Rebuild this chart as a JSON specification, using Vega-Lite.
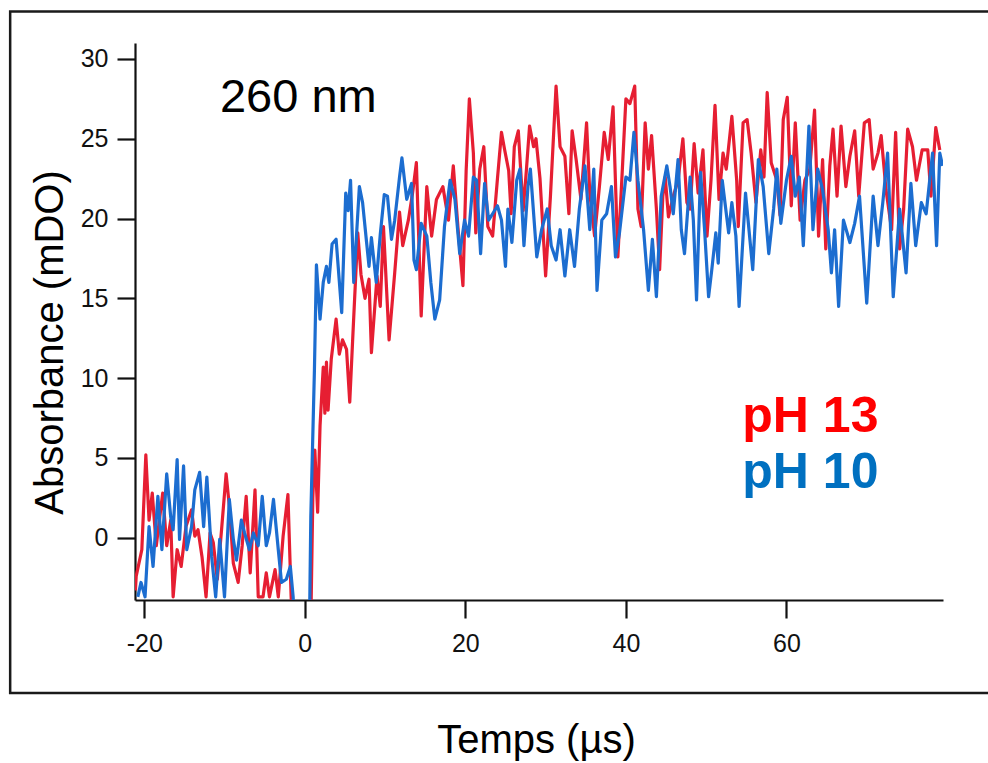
{
  "$schema": "https://vega.github.io/schema/vega-lite/v6.json",
  "width": 808,
  "height": 557,
  "autosize": "none",
  "padding": {"left": 135, "top": 43, "right": 45, "bottom": 163},
  "background": "white",
  "config": {
    "view": {"stroke": null},
    "font": "Liberation Sans",
    "axis": {
      "grid": false,
      "domainColor": "#111111",
      "domainWidth": 2.2,
      "tickColor": "#111111",
      "tickWidth": 2.2,
      "tickSize": 18,
      "labelFont": "Liberation Sans",
      "labelFontSize": 25,
      "labelColor": "#111111",
      "labelExpr": "'' + datum.value",
      "titleFont": "Liberation Sans",
      "titleFontSize": 40,
      "titleFontWeight": "normal",
      "titleColor": "#000000"
    }
  },
  "datasets": {
    "red": [
      {"t": -21.1, "v": -3.3}, {"t": -21.0, "v": -2.4}, {"t": -20.3, "v": -0.75}, {"t": -19.8, "v": 5.2}, {"t": -19.4, "v": 1.1},
      {"t": -19.0, "v": 2.8}, {"t": -18.5, "v": -0.5}, {"t": -17.7, "v": 2.8}, {"t": -17.2, "v": -0.5}, {"t": -16.7, "v": 1.1},
      {"t": -16.4, "v": -3.7}, {"t": -15.9, "v": -0.75}, {"t": -15.4, "v": -1.8}, {"t": -14.8, "v": 0.7}, {"t": -14.1, "v": 1.75},
      {"t": -13.7, "v": 0.1}, {"t": -13.3, "v": 0.5}, {"t": -12.8, "v": -1.2}, {"t": -12.3, "v": -3.7}, {"t": -11.8, "v": 0.3},
      {"t": -11.4, "v": -0.3}, {"t": -10.9, "v": -2.6}, {"t": -10.4, "v": 0.3}, {"t": -9.8, "v": 4.0}, {"t": -9.4, "v": 2.0},
      {"t": -8.9, "v": -1.6}, {"t": -8.3, "v": -2.8}, {"t": -7.8, "v": -0.5}, {"t": -7.3, "v": 2.6}, {"t": -6.8, "v": -2.2},
      {"t": -6.2, "v": 3.0}, {"t": -5.8, "v": -3.7}, {"t": -5.2, "v": -3.7}, {"t": -4.8, "v": -2.2}, {"t": -4.4, "v": -3.7},
      {"t": -3.7, "v": -2.0}, {"t": -3.3, "v": -3.7}, {"t": -2.7, "v": 0.1}, {"t": -2.1, "v": 2.7}, {"t": -1.7, "v": -3.7},
      {"t": -1.4, "v": -7}, {"t": 0.7, "v": -7}, {"t": 1.0, "v": 2.5}, {"t": 1.25, "v": 5.5}, {"t": 1.6, "v": 1.6},
      {"t": 1.9, "v": 7.0}, {"t": 2.3, "v": 10.7}, {"t": 2.5, "v": 7.8}, {"t": 2.7, "v": 11.0}, {"t": 2.9, "v": 8.0},
      {"t": 3.3, "v": 11.2}, {"t": 3.9, "v": 13.7}, {"t": 4.3, "v": 11.5}, {"t": 4.7, "v": 12.4}, {"t": 5.2, "v": 11.8},
      {"t": 5.6, "v": 8.5}, {"t": 6.0, "v": 12.8}, {"t": 6.6, "v": 19.1}, {"t": 7.0, "v": 16.5}, {"t": 7.5, "v": 15.0},
      {"t": 8.0, "v": 16.2}, {"t": 8.3, "v": 11.6}, {"t": 9.0, "v": 16.4}, {"t": 9.4, "v": 14.5}, {"t": 9.8, "v": 19.5},
      {"t": 10.5, "v": 12.4}, {"t": 11.2, "v": 16.6}, {"t": 11.8, "v": 20.4}, {"t": 12.2, "v": 18.3}, {"t": 12.9, "v": 19.9},
      {"t": 13.4, "v": 21.5}, {"t": 13.9, "v": 23.5}, {"t": 14.5, "v": 13.9}, {"t": 15.2, "v": 22.0}, {"t": 15.8, "v": 18.9},
      {"t": 16.4, "v": 21.2}, {"t": 17.2, "v": 22.0}, {"t": 17.9, "v": 19.9}, {"t": 18.5, "v": 23.3}, {"t": 19.1, "v": 19.3},
      {"t": 19.7, "v": 15.8}, {"t": 20.1, "v": 23.0}, {"t": 20.5, "v": 27.5}, {"t": 21.0, "v": 24.1}, {"t": 21.3, "v": 19.1},
      {"t": 21.8, "v": 23.1}, {"t": 22.3, "v": 24.5}, {"t": 22.8, "v": 19.5}, {"t": 23.4, "v": 18.9}, {"t": 24.0, "v": 22.5},
      {"t": 24.5, "v": 25.4}, {"t": 24.9, "v": 24.3}, {"t": 25.4, "v": 23.0}, {"t": 25.7, "v": 20.3}, {"t": 26.1, "v": 24.5},
      {"t": 26.6, "v": 25.5}, {"t": 27.2, "v": 20.5}, {"t": 27.6, "v": 23.0}, {"t": 28.0, "v": 25.8}, {"t": 28.5, "v": 24.5},
      {"t": 28.8, "v": 25.0}, {"t": 29.3, "v": 22.5}, {"t": 29.6, "v": 19.9}, {"t": 30.0, "v": 16.4}, {"t": 30.6, "v": 21.4},
      {"t": 31.3, "v": 28.3}, {"t": 31.8, "v": 24.5}, {"t": 32.4, "v": 23.9}, {"t": 32.9, "v": 20.3}, {"t": 33.3, "v": 25.5},
      {"t": 33.8, "v": 23.7}, {"t": 34.4, "v": 21.2}, {"t": 35.1, "v": 26.0}, {"t": 35.5, "v": 21.6}, {"t": 36.1, "v": 18.9},
      {"t": 36.7, "v": 22.0}, {"t": 37.3, "v": 25.4}, {"t": 37.8, "v": 23.7}, {"t": 38.4, "v": 27.0}, {"t": 39.0, "v": 17.6},
      {"t": 39.6, "v": 23.5}, {"t": 40.0, "v": 27.5}, {"t": 40.5, "v": 27.2}, {"t": 41.1, "v": 28.3}, {"t": 41.5, "v": 20.6},
      {"t": 41.9, "v": 19.5}, {"t": 42.4, "v": 26.0}, {"t": 42.8, "v": 23.1}, {"t": 43.2, "v": 25.2}, {"t": 43.8, "v": 20.6},
      {"t": 44.2, "v": 16.8}, {"t": 44.6, "v": 21.4}, {"t": 44.9, "v": 22.6}, {"t": 45.3, "v": 20.1}, {"t": 45.9, "v": 21.4},
      {"t": 46.5, "v": 22.4}, {"t": 47.1, "v": 25.0}, {"t": 47.6, "v": 21.0}, {"t": 48.0, "v": 20.6}, {"t": 48.5, "v": 24.7},
      {"t": 49.0, "v": 21.6}, {"t": 49.6, "v": 24.3}, {"t": 50.1, "v": 18.9}, {"t": 50.6, "v": 22.4}, {"t": 51.1, "v": 27.1},
      {"t": 51.6, "v": 21.2}, {"t": 52.1, "v": 24.1}, {"t": 52.5, "v": 23.1}, {"t": 53.2, "v": 26.4}, {"t": 53.8, "v": 22.4},
      {"t": 54.0, "v": 19.5}, {"t": 54.6, "v": 26.0}, {"t": 55.1, "v": 26.2}, {"t": 55.6, "v": 24.1}, {"t": 56.2, "v": 21.0},
      {"t": 56.8, "v": 24.3}, {"t": 57.2, "v": 22.6}, {"t": 57.6, "v": 27.9}, {"t": 58.1, "v": 23.5}, {"t": 58.8, "v": 22.4},
      {"t": 59.2, "v": 20.2}, {"t": 59.6, "v": 26.2}, {"t": 60.1, "v": 27.6}, {"t": 60.6, "v": 20.8}, {"t": 61.1, "v": 26.0},
      {"t": 61.7, "v": 19.9}, {"t": 62.3, "v": 22.4}, {"t": 62.9, "v": 23.1}, {"t": 63.5, "v": 26.8}, {"t": 64.0, "v": 18.9},
      {"t": 64.5, "v": 23.7}, {"t": 64.9, "v": 18.1}, {"t": 65.4, "v": 23.3}, {"t": 65.8, "v": 25.6}, {"t": 66.3, "v": 21.4},
      {"t": 66.8, "v": 25.8}, {"t": 67.4, "v": 22.0}, {"t": 67.9, "v": 23.9}, {"t": 68.5, "v": 25.5}, {"t": 69.0, "v": 21.4},
      {"t": 69.7, "v": 26.0}, {"t": 70.3, "v": 26.2}, {"t": 70.8, "v": 23.1}, {"t": 71.4, "v": 24.1}, {"t": 71.8, "v": 25.2},
      {"t": 72.4, "v": 21.8}, {"t": 73.1, "v": 19.3}, {"t": 73.6, "v": 25.4}, {"t": 74.1, "v": 18.1}, {"t": 74.6, "v": 20.6},
      {"t": 75.1, "v": 25.6}, {"t": 75.7, "v": 24.5}, {"t": 76.2, "v": 22.4}, {"t": 76.9, "v": 24.3}, {"t": 77.6, "v": 24.3},
      {"t": 78.0, "v": 21.4}, {"t": 78.6, "v": 25.7}, {"t": 79.1, "v": 24.3}
    ],
    "blue": [
      {"t": -20.8, "v": -3.7}, {"t": -20.4, "v": -2.8}, {"t": -19.9, "v": -3.7}, {"t": -19.4, "v": 0.7}, {"t": -18.9, "v": -1.8},
      {"t": -18.3, "v": 2.6}, {"t": -17.8, "v": -0.75}, {"t": -17.2, "v": 4.0}, {"t": -16.7, "v": 1.3}, {"t": -16.4, "v": 0.5},
      {"t": -15.9, "v": 4.9}, {"t": -15.6, "v": -0.1}, {"t": -15.1, "v": 4.5}, {"t": -14.7, "v": -0.75}, {"t": -14.1, "v": 0.7},
      {"t": -13.7, "v": 3.0}, {"t": -13.1, "v": 4.1}, {"t": -12.6, "v": 0.7}, {"t": -12.2, "v": 3.8}, {"t": -11.6, "v": -1.2},
      {"t": -11.1, "v": -3.7}, {"t": -10.6, "v": -0.1}, {"t": -10.0, "v": -3.7}, {"t": -9.4, "v": 2.4}, {"t": -8.9, "v": -0.1},
      {"t": -8.5, "v": -1.4}, {"t": -7.9, "v": 1.1}, {"t": -7.5, "v": 0.3}, {"t": -6.9, "v": -0.75}, {"t": -6.4, "v": 0.3},
      {"t": -5.8, "v": -0.5}, {"t": -5.3, "v": 2.6}, {"t": -4.8, "v": -0.5}, {"t": -4.4, "v": 0.3}, {"t": -3.9, "v": 2.4},
      {"t": -3.3, "v": -0.75}, {"t": -2.9, "v": -2.8}, {"t": -2.3, "v": -2.6}, {"t": -1.8, "v": -1.8}, {"t": -1.45, "v": -3.7},
      {"t": -1.2, "v": -7}, {"t": 0.55, "v": -7}, {"t": 0.75, "v": 1.3}, {"t": 1.2, "v": 10.5}, {"t": 1.45, "v": 17.1},
      {"t": 1.9, "v": 13.7}, {"t": 2.3, "v": 16.0}, {"t": 2.7, "v": 17.0}, {"t": 3.0, "v": 16.0}, {"t": 3.4, "v": 18.4},
      {"t": 3.9, "v": 18.7}, {"t": 4.6, "v": 14.1}, {"t": 5.1, "v": 21.6}, {"t": 5.4, "v": 20.5}, {"t": 5.7, "v": 22.4},
      {"t": 6.1, "v": 16.0}, {"t": 6.8, "v": 22.0}, {"t": 7.2, "v": 21.0}, {"t": 7.7, "v": 18.5}, {"t": 8.0, "v": 17.0},
      {"t": 8.3, "v": 18.8}, {"t": 8.9, "v": 16.0}, {"t": 9.4, "v": 19.0}, {"t": 9.9, "v": 21.5}, {"t": 10.3, "v": 21.4},
      {"t": 10.8, "v": 18.7}, {"t": 11.2, "v": 19.9}, {"t": 11.8, "v": 22.6}, {"t": 12.1, "v": 23.8}, {"t": 12.7, "v": 21.2},
      {"t": 13.3, "v": 22.2}, {"t": 13.6, "v": 17.4}, {"t": 13.9, "v": 16.8}, {"t": 14.5, "v": 19.7}, {"t": 15.2, "v": 18.9},
      {"t": 15.7, "v": 16.0}, {"t": 16.2, "v": 13.7}, {"t": 16.8, "v": 14.9}, {"t": 17.4, "v": 19.5}, {"t": 18.1, "v": 22.4},
      {"t": 18.7, "v": 21.2}, {"t": 19.3, "v": 17.8}, {"t": 19.9, "v": 19.9}, {"t": 20.4, "v": 18.9}, {"t": 21.0, "v": 22.6},
      {"t": 21.4, "v": 22.4}, {"t": 21.9, "v": 17.8}, {"t": 22.4, "v": 22.2}, {"t": 22.9, "v": 19.9}, {"t": 23.4, "v": 20.3},
      {"t": 24.0, "v": 20.8}, {"t": 24.5, "v": 19.9}, {"t": 25.0, "v": 17.0}, {"t": 25.3, "v": 20.6}, {"t": 25.8, "v": 18.5},
      {"t": 26.4, "v": 22.4}, {"t": 26.8, "v": 23.1}, {"t": 27.3, "v": 18.3}, {"t": 27.8, "v": 22.0}, {"t": 28.1, "v": 23.1},
      {"t": 28.9, "v": 17.6}, {"t": 29.5, "v": 19.3}, {"t": 30.2, "v": 20.6}, {"t": 30.7, "v": 18.3}, {"t": 31.3, "v": 17.4},
      {"t": 31.8, "v": 19.3}, {"t": 32.4, "v": 16.4}, {"t": 33.0, "v": 19.3}, {"t": 33.6, "v": 17.0}, {"t": 34.2, "v": 20.6},
      {"t": 34.9, "v": 23.3}, {"t": 35.5, "v": 19.3}, {"t": 36.0, "v": 23.1}, {"t": 36.4, "v": 15.5}, {"t": 37.0, "v": 19.9},
      {"t": 37.6, "v": 20.3}, {"t": 38.2, "v": 22.0}, {"t": 38.7, "v": 17.6}, {"t": 39.2, "v": 19.1}, {"t": 40.0, "v": 22.6},
      {"t": 40.5, "v": 22.4}, {"t": 41.0, "v": 25.4}, {"t": 41.5, "v": 22.4}, {"t": 42.2, "v": 19.3}, {"t": 42.8, "v": 15.5},
      {"t": 43.3, "v": 18.7}, {"t": 43.8, "v": 15.1}, {"t": 44.4, "v": 21.4}, {"t": 45.1, "v": 23.3}, {"t": 45.5, "v": 22.0},
      {"t": 45.9, "v": 20.3}, {"t": 46.5, "v": 23.7}, {"t": 46.9, "v": 19.3}, {"t": 47.3, "v": 17.8}, {"t": 48.0, "v": 22.6},
      {"t": 48.4, "v": 19.9}, {"t": 48.8, "v": 14.9}, {"t": 49.3, "v": 22.9}, {"t": 49.8, "v": 19.3}, {"t": 50.3, "v": 15.1},
      {"t": 50.7, "v": 16.8}, {"t": 51.2, "v": 19.1}, {"t": 51.5, "v": 17.2}, {"t": 52.0, "v": 22.4}, {"t": 52.8, "v": 19.1},
      {"t": 53.2, "v": 21.0}, {"t": 53.7, "v": 18.9}, {"t": 54.1, "v": 14.5}, {"t": 54.9, "v": 21.6}, {"t": 55.8, "v": 16.8},
      {"t": 56.5, "v": 23.7}, {"t": 57.1, "v": 22.0}, {"t": 57.8, "v": 17.8}, {"t": 58.4, "v": 20.6}, {"t": 58.8, "v": 23.1},
      {"t": 59.3, "v": 19.7}, {"t": 60.0, "v": 22.4}, {"t": 60.6, "v": 23.9}, {"t": 61.1, "v": 21.4}, {"t": 61.6, "v": 22.6},
      {"t": 62.1, "v": 18.3}, {"t": 62.8, "v": 25.8}, {"t": 63.3, "v": 19.3}, {"t": 63.9, "v": 23.1}, {"t": 64.5, "v": 21.8},
      {"t": 65.2, "v": 19.3}, {"t": 65.6, "v": 16.6}, {"t": 66.0, "v": 19.3}, {"t": 66.5, "v": 14.5}, {"t": 67.1, "v": 19.9},
      {"t": 67.9, "v": 18.5}, {"t": 68.5, "v": 19.7}, {"t": 69.1, "v": 21.4}, {"t": 70.0, "v": 14.7}, {"t": 70.8, "v": 21.4},
      {"t": 71.4, "v": 18.3}, {"t": 72.0, "v": 21.0}, {"t": 72.6, "v": 24.1}, {"t": 73.3, "v": 15.1}, {"t": 74.1, "v": 20.6},
      {"t": 74.9, "v": 16.6}, {"t": 75.5, "v": 22.2}, {"t": 76.1, "v": 18.3}, {"t": 76.8, "v": 21.0}, {"t": 77.4, "v": 20.3},
      {"t": 78.2, "v": 24.1}, {"t": 78.7, "v": 18.3}, {"t": 79.1, "v": 24.1}, {"t": 79.45, "v": 23.3}
    ],
    "frame": [{"x1": -36.7, "x2": 86, "y1": 32.98, "y2": -9.72}],
    "ann": [{"t": -0.8, "v": 26.7, "label": "260 nm"}],
    "leg": [
      {"t": 54.5, "v": 6.65, "label": "pH 13", "c": "pH 13"},
      {"t": 54.5, "v": 3.1, "label": "pH 10", "c": "pH 10"}
    ]
  },
  "layer": [
    {
      "data": {"name": "frame"},
      "mark": {"type": "rect", "fill": null, "stroke": "#1a1a1a", "strokeWidth": 2.5, "clip": false},
      "encoding": {
        "x": {"field": "x1", "type": "quantitative", "scale": {"domain": [-21.15, 79.5], "nice": false, "zero": false}},
        "x2": {"field": "x2"},
        "y": {"field": "y1", "type": "quantitative", "scale": {"domain": [-3.9, 31.0], "nice": false, "zero": false}},
        "y2": {"field": "y2"}
      }
    },
    {
      "data": {"name": "red"},
      "mark": {"type": "line", "color": "#E61E32", "strokeWidth": 3.2, "clip": true, "strokeJoin": "round"},
      "encoding": {
        "x": {
          "field": "t", "type": "quantitative",
          "axis": {"values": [-20, 0, 20, 40, 60], "title": "Temps (µs)", "labelPadding": 13, "titleBaseline": "alphabetic", "titleX": 401, "titleY": 152, "titleAnchor": "middle"}
        },
        "y": {
          "field": "v", "type": "quantitative",
          "axis": {"values": [0, 5, 10, 15, 20, 25, 30], "title": "Absorbance (mDO)", "labelPadding": 9, "titleBaseline": "alphabetic", "titleAngle": -90, "titleX": -73, "titleY": 299, "titleAnchor": "middle"}
        }
      }
    },
    {
      "data": {"name": "blue"},
      "mark": {"type": "line", "color": "#1C6DD0", "strokeWidth": 3.2, "clip": true, "strokeJoin": "round"},
      "encoding": {
        "x": {"field": "t", "type": "quantitative"},
        "y": {"field": "v", "type": "quantitative"}
      }
    },
    {
      "data": {"name": "ann"},
      "mark": {"type": "text", "fontSize": 47, "font": "Liberation Sans", "align": "center", "baseline": "alphabetic", "color": "#000000"},
      "encoding": {
        "x": {"field": "t", "type": "quantitative"},
        "y": {"field": "v", "type": "quantitative"},
        "text": {"field": "label"}
      }
    },
    {
      "data": {"name": "leg"},
      "mark": {"type": "text", "fontSize": 50, "fontWeight": "bold", "font": "Liberation Sans", "align": "left", "baseline": "alphabetic"},
      "encoding": {
        "x": {"field": "t", "type": "quantitative"},
        "y": {"field": "v", "type": "quantitative"},
        "text": {"field": "label"},
        "color": {"field": "c", "type": "nominal", "scale": {"domain": ["pH 13", "pH 10"], "range": ["#FF0000", "#0070C0"]}, "legend": null}
      }
    }
  ]
}
